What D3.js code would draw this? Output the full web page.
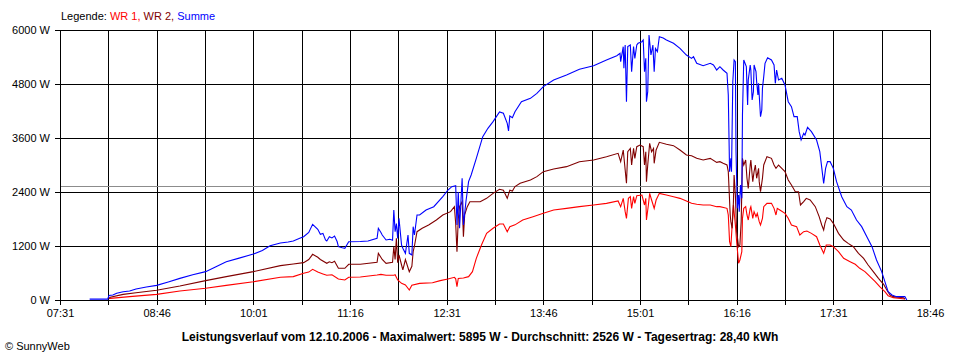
<!DOCTYPE html>
<html><head><meta charset="utf-8">
<script src="https://cdn.jsdelivr.net/npm/d3@7"></script>
<style>
body{margin:0;background:#fff}
svg{display:block}
text{font-family:"Liberation Sans",Arial,sans-serif;font-size:11px;fill:#000}
</style>
</head><body>
<svg id="chart" width="960" height="360"></svg>
<script>
// ---------- data ----------
const xDomain = ["07:31:00","18:46:00"];
const xLabelTimes = ["07:31","08:46","10:01","11:16","12:31","13:46","15:01","16:16","17:31","18:46"];
const xGridTimes = ["07:31:00","08:08:30","08:46:00","09:23:30","10:01:00","10:38:30","11:16:00","11:53:30","12:31:00","13:08:30","13:46:00","14:23:30","15:01:00","15:38:30","16:16:00","16:53:30","17:31:00","18:08:30","18:46:00"];
const yTicks = [0,1200,2400,3600,4800,6000];
const averageW = 2526;
const legendItems = ["WR 1","WR 2","Summe"];
const titleText = "Leistungsverlauf vom 12.10.2006 - Maximalwert: 5895 W - Durchschnitt: 2526 W - Tagesertrag: 28,40 kWh";

const tSum = ["07:54:00","08:08:00","08:09:00","08:12:00","08:15:00","08:20:00","08:25:00","08:30:00","08:38:00","08:46:00","08:55:00","09:04:00","09:14:00","09:24:00","09:32:00","09:40:00","09:50:00","10:01:00","10:08:00","10:14:00","10:22:00","10:28:00","10:32:00","10:37:00","10:40:00","10:44:00","10:47:00","10:51:00","10:53:00","10:55:00","10:57:00","10:58:00","11:00:00","11:02:00","11:04:00","11:06:00","11:07:00","11:10:00","11:12:00","11:15:00","11:24:00","11:30:00","11:37:00","11:38:00","11:40:00","11:41:00","11:44:00","11:47:00","11:49:00","11:50:00","11:51:00","11:52:00","11:53:00","11:54:00","11:56:00","11:57:00","11:59:00","12:01:00","12:02:00","12:04:00","12:05:00","12:06:00","12:08:00","12:10:00","12:15:00","12:21:00","12:28:00","12:32:00","12:35:00","12:38:00","12:39:00","12:40:00","12:41:00","12:43:00","12:44:00","12:46:00","12:48:00","12:50:00","12:54:00","12:59:00","13:03:00","13:07:00","13:12:00","13:15:00","13:18:00","13:19:00","13:20:00","13:22:00","13:24:00","13:29:00","13:36:00","13:41:00","13:46:00","13:54:00","14:04:00","14:14:00","14:25:00","14:35:00","14:43:00",
"14:45:30","14:46:00","14:48:00","14:48:30","14:49:30","14:50:30","14:51:30","14:53:30","14:54:30","14:56:00","14:57:00","14:58:30","14:59:30","15:02:30","15:03:30","15:04:30","15:05:30","15:06:00","15:07:00","15:08:00","15:09:30","15:11:00","15:12:00","15:13:00","15:14:30","15:16:00","15:19:00","15:21:30","15:27:00","15:32:00","15:37:00","15:41:00","15:42:30","15:45:00","15:50:00","15:55:30","15:58:00","16:00:30","16:03:00","16:05:30","16:08:30",
"16:09:30","16:10:30","16:11:30","16:12:00","16:13:00","16:14:00","16:15:00","16:15:30","16:16:30","16:17:30","16:18:00","16:19:00","16:20:00","16:20:30","16:21:30","16:23:30","16:24:30","16:25:00","16:26:30","16:27:00","16:28:00","16:29:00","16:29:30","16:31:00","16:31:30","16:32:30","16:33:00","16:33:30","16:34:30","16:35:30","16:36:00","16:37:00","16:38:00","16:40:00","16:43:00","16:45:00","16:46:00","16:47:00","16:48:30","16:51:00","16:53:30","16:56:00","16:58:30","17:00:30","17:03:00","17:04:30","17:06:00","17:08:00","17:09:00","17:11:00","17:14:00","17:18:00","17:20:30","17:23:30","17:25:00","17:26:30","17:28:30","17:31:00","17:33:30","17:37:30","17:41:30","17:45:00","17:49:00","17:53:00","17:57:00","18:01:00","18:04:30","18:08:30","18:11:00","18:13:30","18:16:30","18:20:00","18:26:30","18:28:00"];
const vSum = [20,20,100,110,150,185,200,245,290,325,400,480,560,630,740,850,930,1020,1100,1205,1265,1290,1311,1370,1407,1500,1682,1570,1460,1480,1333,1311,1407,1380,1420,1300,1185,1160,1148,1296,1300,1310,1370,1593,1500,1444,1333,1350,1330,2000,1518,1700,1370,1815,1222,1150,1037,1444,1037,1000,1630,1444,1889,1889,2000,2074,2296,2444,2519,2541,1667,2400,1593,2704,1667,2200,2630,2778,3148,3630,3815,3963,4180,4150,3926,3756,4090,4050,4185,4407,4481,4593,4741,4889,5000,5126,5207,5333,5430,
5481,5296,5630,5148,5667,4407,5630,5667,5074,5630,5370,5667,5704,5740,5778,5074,5370,4407,4630,5889,5444,5667,5074,5590,5520,5852,5820,5778,5704,5593,5444,5370,5407,5259,5207,5259,5222,5111,5185,5111,5037,
4556,2852,3148,2852,4852,5333,5296,3296,2037,2333,1963,2556,2259,4111,5333,5185,4333,4889,5222,5111,4444,4630,5222,5074,4852,4556,4815,4556,4074,4222,4704,4963,5259,5385,5333,5222,4815,5111,4889,4926,4778,4407,4296,4074,4074,3741,3556,3704,3667,3837,3741,3556,3296,2593,2926,3074,3074,2926,2630,2296,2074,2000,1778,1630,1407,1185,889,630,407,185,111,74,74,0];

const tWR2 = ["08:09:00","08:10:00","08:20:00","08:30:00","08:46:00","09:04:00","09:24:00","09:40:00","10:01:00","10:22:00","10:32:00","10:40:00","10:44:00","10:47:00","10:51:00","10:53:00","10:58:00","11:00:00","11:02:00","11:04:00","11:07:00","11:12:00","11:15:00","11:24:00","11:37:00","11:38:00","11:41:00","11:44:00","11:49:00","11:50:00","11:51:00","11:52:00","11:53:00","11:54:00","11:56:00","11:57:00","11:59:00","12:02:00","12:04:00","12:05:00","12:06:00","12:08:00","12:12:00","12:17:00","12:23:00","12:28:00","12:34:00","12:37:00","12:38:00","12:39:00","12:40:00","12:41:00","12:43:00","12:44:00","12:45:00","12:47:00","12:49:00","12:57:00","13:02:00","13:07:00","13:12:00","13:15:00","13:18:00","13:20:00","13:22:00","13:24:00","13:28:00","13:36:00","13:41:00","13:46:00","13:54:00","14:04:00","14:14:00","14:25:00","14:35:00","14:44:00",
"14:46:00","14:48:00","14:49:30","14:50:30","14:51:30","14:53:30","14:54:30","14:56:00","14:57:00","14:58:30","15:01:00","15:03:30","15:04:30","15:05:30","15:06:00","15:07:00","15:08:30","15:10:00","15:11:30","15:12:00","15:13:30","15:16:00","15:21:30","15:27:00","15:32:00","15:37:00","15:41:00","15:45:00","15:50:00","15:55:30","16:00:30","16:03:00","16:05:30","16:08:30",
"16:09:30","16:11:00","16:11:30","16:12:30","16:13:30","16:14:00","16:15:00","16:16:00","16:17:30","16:18:30","16:19:30","16:20:30","16:21:30","16:23:00","16:24:00","16:25:00","16:26:30","16:27:00","16:28:30","16:29:30","16:30:30","16:31:30","16:33:00","16:33:30","16:34:30","16:36:00","16:37:00","16:39:30","16:43:00","16:45:00","16:46:30","16:48:30","16:51:00","16:53:30","16:56:00","16:58:30","17:01:30","17:04:00","17:05:30","17:08:00","17:10:00","17:13:00","17:17:00","17:20:00","17:22:00","17:23:30","17:24:30","17:26:00","17:28:30","17:31:00","17:35:00","17:39:00","17:42:30","17:46:30","17:50:30","17:54:30","17:58:00","18:02:00","18:06:00","18:10:00","18:12:30","18:15:00","18:17:30","18:25:30","18:26:30"];
const vWR2 = [40,60,125,160,215,310,430,520,630,763,800,830,900,1015,950,900,815,850,830,860,704,704,793,793,837,1037,900,815,840,1185,900,1370,830,1000,778,667,900,630,750,1074,1200,1518,1593,1667,1778,1889,1963,2074,1700,1074,1800,2074,2185,1407,1900,2074,2185,2185,2259,2370,2460,2440,2259,2440,2420,2520,2593,2667,2741,2852,2911,2963,3074,3111,3185,3259,
3074,3333,2889,2593,3296,3370,3000,3370,3148,3407,3444,3407,3000,3296,2630,3000,3481,3296,3370,3037,3333,3504,3460,3430,3333,3222,3207,3148,3111,3148,3059,3074,3037,3000,
2852,1889,1741,1593,2185,2778,2333,1519,1185,1222,1741,3148,3000,3111,2704,2481,3000,3111,2630,2852,3000,2704,2926,2630,2407,2704,3000,3185,3148,3000,2926,3000,2926,2852,2667,2556,2407,2407,2111,2185,2259,2222,2074,1852,1667,1556,1704,1830,1800,1704,1481,1333,1259,1185,1037,926,778,630,481,348,222,111,74,52,22];

const tWR1 = ["08:09:00","08:10:00","08:25:00","08:46:00","09:04:00","09:24:00","09:40:00","10:01:00","10:22:00","10:32:00","10:40:00","10:44:00","10:47:00","10:51:00","10:55:00","10:58:00","11:02:00","11:07:00","11:12:00","11:15:00","11:24:00","11:37:00","11:40:00","11:44:00","11:50:00","11:51:00","11:53:00","11:56:00","11:59:00","12:02:00","12:04:00","12:10:00","12:20:00","12:26:00","12:32:00","12:37:00","12:38:00","12:39:00","12:40:00","12:44:00","12:48:00","12:51:00","12:54:00","12:58:00","13:02:00","13:07:00","13:12:00","13:15:00","13:18:00","13:20:00","13:24:00","13:30:00","13:38:00","13:46:00","13:54:00","14:04:00","14:14:00","14:25:00","14:35:00","14:44:00",
"14:46:00","14:48:00","14:49:30","14:50:30","14:52:00","14:53:30","14:54:30","14:56:00","14:57:00","14:58:30","15:02:30","15:04:30","15:05:30","15:06:00","15:07:30","15:08:30","15:10:00","15:12:00","15:13:30","15:16:00","15:21:30","15:27:00","15:32:00","15:37:00","15:41:00","15:45:00","15:50:00","15:55:30","16:00:30","16:03:00","16:08:30",
"16:09:30","16:10:30","16:11:30","16:12:30","16:13:30","16:14:00","16:15:00","16:16:00","16:17:30","16:18:30","16:20:00","16:20:30","16:21:30","16:23:00","16:24:00","16:25:00","16:26:30","16:27:00","16:28:30","16:29:30","16:31:00","16:32:00","16:33:30","16:34:30","16:36:00","16:37:00","16:39:30","16:43:00","16:45:00","16:46:30","16:47:30","16:49:30","16:53:30","16:56:00","16:58:30","17:02:30","17:05:00","17:08:00","17:10:30","17:14:00","17:18:00","17:20:30","17:23:30","17:25:30","17:28:30","17:31:00","17:35:00","17:39:00","17:44:00","17:48:00","17:51:30","17:55:30","17:59:30","18:03:30","18:07:00","18:11:00","18:13:30","18:17:30","18:26:30"];
const vWR1 = [30,37,75,125,200,260,325,405,505,519,593,620,681,620,580,550,560,467,444,504,510,556,570,550,550,560,444,370,333,222,330,370,385,430,467,504,470,296,480,490,519,630,926,1222,1481,1593,1690,1690,1518,1630,1670,1778,1852,1926,2000,2037,2074,2111,2148,2200,
2074,2259,1963,1815,2259,2296,2037,2296,2148,2319,2333,2111,2259,1778,2111,2370,2222,2037,2222,2370,2333,2296,2259,2200,2148,2126,2111,2111,2074,2074,2037,
1889,1296,1185,1667,2111,1963,1667,1296,815,889,1074,1815,2037,2074,1889,1778,2037,2074,1815,1963,1852,1926,1741,1667,1815,2074,2148,2148,2037,1889,2037,2000,1926,1815,1667,1630,1444,1519,1533,1481,1407,1222,1037,1222,1222,1185,1074,926,852,793,704,630,519,407,296,185,96,52,22];

// ---------- chart ----------
const parse = d3.timeParse("%H:%M:%S");
const svg = d3.select("#chart");
svg.append("rect").attr("width",960).attr("height",360).attr("fill","#fff");

const L = 60, R = 930, T = 30, B = 300;
const x = d3.scaleTime().domain(xDomain.map(parse)).range([L, R]);
const y = d3.scaleLinear().domain([0, 6000]).range([B, T]);

const grid = svg.append("g").attr("shape-rendering","crispEdges");
// vertical grid
grid.selectAll("line.v").data(xGridTimes).enter().append("line")
  .attr("x1", d => Math.round(x(parse(d))) + 0.5).attr("x2", d => Math.round(x(parse(d))) + 0.5)
  .attr("y1", T).attr("y2", B + 5).attr("stroke","#000");
// horizontal grid
grid.selectAll("line.h").data(yTicks).enter().append("line")
  .attr("x1", L - 5).attr("x2", R + 1)
  .attr("y1", d => Math.round(y(d)) + 0.5).attr("y2", d => Math.round(y(d)) + 0.5)
  .attr("stroke","#000");
// average line
grid.append("line")
  .attr("x1", L + 1).attr("x2", R)
  .attr("y1", Math.round(y(averageW)) + 0.5).attr("y2", Math.round(y(averageW)) + 0.5)
  .attr("stroke","#8c8c8c");

// y axis labels
const yAxis = d3.axisLeft(y).tickValues(yTicks).tickSize(0).tickPadding(0).tickFormat(d => d + " W");
const gy = svg.append("g").attr("transform", `translate(${L - 10},0)`).call(yAxis);
gy.select(".domain").remove();
gy.selectAll("text").attr("font-size", 11).attr("font-family", '"Liberation Sans",Arial,sans-serif').attr("fill","#000");

// x axis labels
const xAxis = d3.axisBottom(x).tickValues(xLabelTimes.map(t => parse(t + ":00"))).tickSize(0).tickPadding(0).tickFormat(d3.timeFormat("%H:%M"));
const gx = svg.append("g").attr("transform", `translate(0,${B + 9})`).call(xAxis);
gx.select(".domain").remove();
gx.selectAll("text").attr("font-size", 11).attr("font-family", '"Liberation Sans",Arial,sans-serif').attr("fill","#000");

// lines
const series = [
  {t: tWR1, v: vWR1, c: "#ff0000"},
  {t: tWR2, v: vWR2, c: "#800000"},
  {t: tSum, v: vSum, c: "#0000ff"}
];
const line = d3.line().x(d => x(d[0])).y(d => y(d[1]));
series.forEach(s => {
  const pts = s.t.map((t, i) => [parse(t), s.v[i]]);
  svg.append("path").datum(pts).attr("d", line)
    .attr("fill","none").attr("stroke", s.c).attr("stroke-width", 1.1)
    .attr("stroke-linejoin","miter");
});

// legend
const legColors = ["#ff0000","#800000","#0000ff"];
const leg = svg.append("text").attr("x", 61).attr("y", 20);
leg.append("tspan").text("Legende: ").attr("fill","#000");
legendItems.forEach((n, i) => {
  leg.append("tspan").text(n + (i < legendItems.length - 1 ? ", " : "")).attr("fill", legColors[i]);
});

// title
svg.append("text").attr("x", 480).attr("y", 341).attr("text-anchor","middle")
  .attr("font-weight","bold").attr("font-size", 12).style("font-size","12px").text(titleText);

// copyright
svg.append("text").attr("x", 5).attr("y", 350).text("\u00A9 SunnyWeb");
</script>
</body></html>
